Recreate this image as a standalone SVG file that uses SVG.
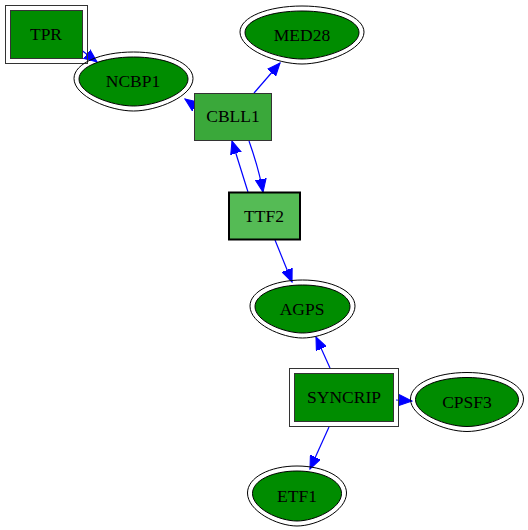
<svg xmlns="http://www.w3.org/2000/svg" width="528" height="530" viewBox="0 0 528 530">
<style>
.lbl{font-family:"Liberation Serif","Times New Roman",serif;font-size:17.5px;fill:#000;text-anchor:middle;dominant-baseline:central}
.egg{fill:#008c00;stroke:#000;stroke-width:1}
.eggo{fill:none;stroke:#000;stroke-width:1}
.edge{fill:none;stroke:#0000ff;stroke-width:1.2}
.dk{fill:#008c00;stroke:#333;stroke-width:1}
.box{fill:none;stroke:#333;stroke-width:1}
</style>
<defs>
<path id="egg" d="M -1,-0.1 C -1,-0.62 -0.55,-1 0,-1 C 0.55,-1 1,-0.62 1,-0.1 C 1,0.5 0.4,1 0,1 C -0.4,1 -1,0.5 -1,-0.1 Z" vector-effect="non-scaling-stroke"/>
<marker id="ah" markerUnits="userSpaceOnUse" markerWidth="14" markerHeight="12" refX="12" refY="5" orient="auto" viewBox="0 0 13 10">
<path d="M0,0 L12,5 L0,10 Z" fill="#0000ff" stroke="#0000ff"/>
</marker>
</defs>
<rect width="528" height="530" fill="#fff"/>
<g id="edges">
<path class="edge" marker-end="url(#ah)" d="M 80,49 L 97,62"/>
<path class="edge" marker-end="url(#ah)" d="M 199,109 L 185,99"/>
<path class="edge" marker-end="url(#ah)" d="M 254,93 L 280,63"/>
<path class="edge" marker-end="url(#ah)" d="M 248,192 L 232,141"/>
<path class="edge" marker-end="url(#ah)" d="M 249,141 C 255,158 260,175 263,192"/>
<path class="edge" marker-end="url(#ah)" d="M 275,240 L 292,282"/>
<path class="edge" marker-end="url(#ah)" d="M 330,368 L 316,337"/>
<path class="edge" marker-end="url(#ah)" d="M 396,400 L 412,401"/>
<path class="edge" marker-end="url(#ah)" d="M 329,427 L 310,469"/>
</g>
<g id="TPR">
<rect class="box" x="5.5" y="5.5" width="82" height="58"/>
<rect class="dk" x="10.5" y="10.5" width="72" height="48"/>
<text class="lbl" x="46" y="34">TPR</text>
</g>
<g id="NCBP1">
<use href="#egg" class="eggo" transform="translate(133.5,81.5) scale(59.5,29.5)"/>
<use href="#egg" class="egg" transform="translate(133.5,81.5) scale(54.5,24.5)"/>
<text class="lbl" x="133" y="81">NCBP1</text>
</g>
<g id="MED28">
<use href="#egg" class="eggo" transform="translate(302,35) scale(62,29)"/>
<use href="#egg" class="egg" transform="translate(302,35) scale(57,24)"/>
<text class="lbl" x="302" y="35">MED28</text>
</g>
<g id="CBLL1">
<rect x="194.5" y="93.5" width="77" height="47" fill="#3aa83a" stroke="#333"/>
<text class="lbl" x="233" y="116">CBLL1</text>
</g>
<g id="TTF2">
<rect x="229" y="192.5" width="71" height="47" fill="#55bb55" stroke="#000" stroke-width="2"/>
<text class="lbl" x="264" y="216">TTF2</text>
</g>
<g id="AGPS">
<use href="#egg" class="eggo" transform="translate(302.5,309) scale(52.5,29)"/>
<use href="#egg" class="egg" transform="translate(302.5,309) scale(47.5,24)"/>
<text class="lbl" x="302" y="309">AGPS</text>
</g>
<g id="SYNCRIP">
<rect class="box" x="289.5" y="368.5" width="109" height="58"/>
<rect class="dk" x="294.5" y="373.5" width="99" height="48"/>
<text class="lbl" x="344" y="397">SYNCRIP</text>
</g>
<g id="CPSF3">
<use href="#egg" class="eggo" transform="translate(467,402) scale(56.5,29.5)"/>
<use href="#egg" class="egg" transform="translate(467,402) scale(51.5,24.5)"/>
<text class="lbl" x="467" y="402">CPSF3</text>
</g>
<g id="ETF1">
<use href="#egg" class="eggo" transform="translate(297,496) scale(49.5,30)"/>
<use href="#egg" class="egg" transform="translate(297,496) scale(44.5,25)"/>
<text class="lbl" x="297" y="496">ETF1</text>
</g>
</svg>
